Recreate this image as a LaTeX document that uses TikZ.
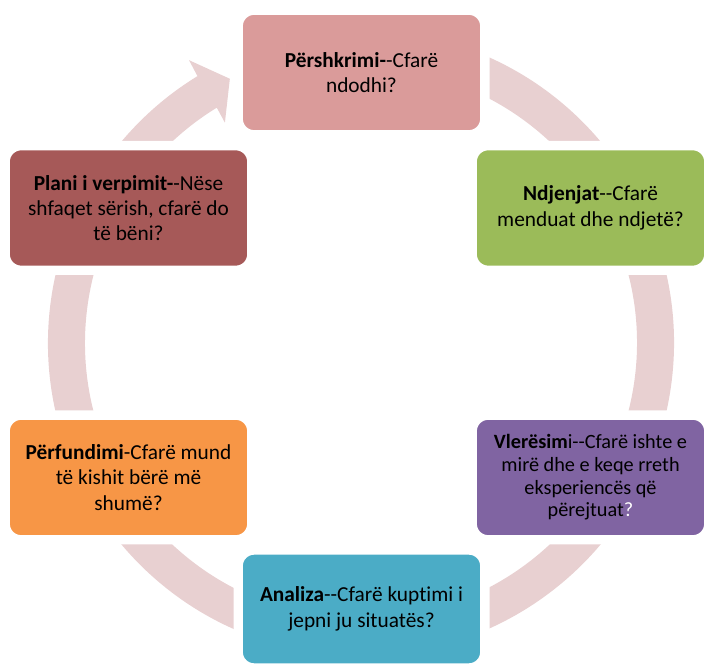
\documentclass[tikz,border=0pt]{standalone}
\usepackage{fontspec}
\setmainfont{Carlito}[Ligatures={TeXOff,NoCommon}]
\usetikzlibrary{calc}
\definecolor{ringpink}{RGB}{232,208,209}
\definecolor{descrpink}{RGB}{218,155,154}
\definecolor{feelgreen}{RGB}{155,187,89}
\definecolor{evalpurple}{RGB}{128,100,162}
\definecolor{analteal}{RGB}{75,172,198}
\definecolor{conclorange}{RGB}{247,150,70}
\definecolor{planred}{RGB}{166,89,88}

\begin{document}
\begin{tikzpicture}[x=0.75pt,y=0.75pt,
        box/.style={rounded corners=12pt,draw=white,line width=7pt,align=center,
          font=\fontsize{16}{19}\selectfont,minimum width=185pt,minimum height=93.5pt,inner sep=3pt},
        narrowbox/.style={box,minimum width=177.5pt}]
        \useasboundingbox (0,0) rectangle (704,664);
        \coordinate (c) at (361,321);
        % ring with arrow head
        \fill[ringpink] ($(c)+(80:313)$) arc[start angle=80,end angle=-238.5,radius=313]
          -- ($(c)+(-238.7:331)$) -- ($(c)+(-243.6:295)$) -- ($(c)+(-238.3:259)$)
          -- ($(c)+(-238.5:276)$) arc[start angle=-238.5,end angle=80,radius=276] -- cycle;
        \node[box,fill=descrpink] (descr) at (361.5,591.5) {\textbf{Përshkrimi-}-Cfarë\\ndodhi?};
        \node[narrowbox,fill=feelgreen] (feel) at (590.5,456) {\textbf{Ndjenjat}--Cfarë\\menduat dhe ndjetë?};
        \node[narrowbox,fill=evalpurple,font=\fontsize{15.2}{17}\selectfont] (eval) at (590.5,186.5)
          {\textbf{Vlerësim}i--Cfarë ishte e\\mirë dhe e keqe rreth\\eksperiencës që\\përejtuat\textcolor{white}{?}};
        \node[box,fill=analteal,minimum height=88.5pt] (anal) at (361.5,55) {\textbf{Analiza}--Cfarë kuptimi i\\jepni ju situatës?};
        \node[box,fill=conclorange] (concl) at (128.5,186.5) {\textbf{Përfundimi}-Cfarë mund\\të kishit bërë më\\shumë?};
        \node[box,fill=planred] (plan) at (128.5,456) {\textbf{Plani i verpimit-}-Nëse\\shfaqet sërish, cfarë do\\të bëni?};
      \end{tikzpicture}
\end{document}
